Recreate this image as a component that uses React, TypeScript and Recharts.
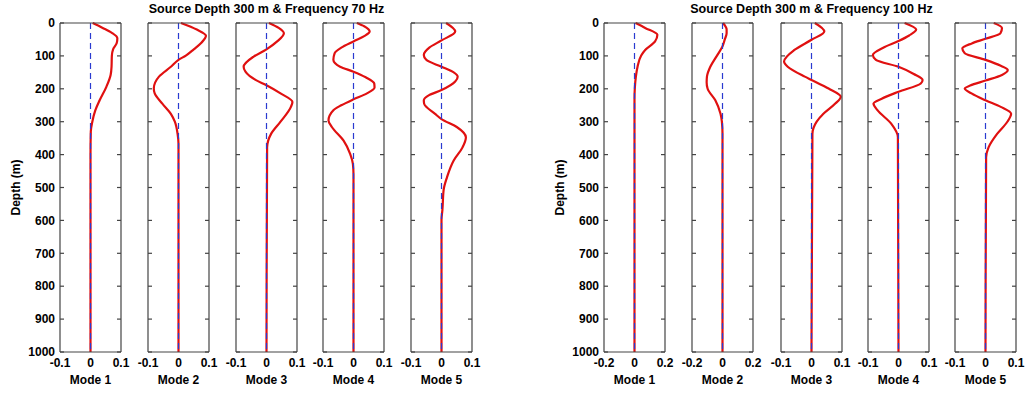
import React from 'react';
import { LineChart, Line, XAxis, YAxis } from 'recharts';

// ---------- data ----------
const depthTicks = [0, 100, 200, 300, 400, 500, 600, 700, 800, 900, 1000];
const ticks01 = [-0.1, 0, 0.1];
const ticks02 = [-0.2, 0, 0.2];
const titles = ['Source Depth 300 m & Frequency 70 Hz', 'Source Depth 300 m & Frequency 100 Hz'];
const modeNames = ['Mode 1', 'Mode 2', 'Mode 3', 'Mode 4', 'Mode 5'];

// 70 Hz
const d70m1 = [0, 15, 30, 46, 61, 80, 100, 133, 158, 194, 235, 265, 300, 330, 400, 1000];
const v70m1 = [0.007, 0.04, 0.07, 0.088, 0.086, 0.074, 0.07, 0.069, 0.066, 0.052, 0.03, 0.016, 0.006, 0.001, 0, 0];
const d70m2 = [0, 20, 39, 60, 80, 99, 112, 133, 163, 199, 214, 245, 276, 300, 337, 367, 1000];
const v70m2 = [0.008, 0.06, 0.09, 0.075, 0.05, 0.024, 0, -0.025, -0.064, -0.081, -0.078, -0.053, -0.025, -0.012, -0.003, 0, 0];
const d70m3 = [0, 15, 31, 56, 80, 102, 133, 148, 173, 189, 214, 240, 255, 300, 337, 378, 1000];
const v70m3 = [0.008, 0.04, 0.057, 0.035, 0, -0.042, -0.075, -0.069, -0.036, 0, 0.046, 0.085, 0.08, 0.046, 0.015, 0.002, 0];
const d70m4 = [0, 10, 26, 40, 56, 75, 92, 112, 133, 148, 165, 184, 196, 214, 232, 250, 265, 296, 316, 357, 398, 428, 460, 1000];
const v70m4 = [0.011, 0.035, 0.053, 0.035, 0, -0.04, -0.062, -0.066, -0.044, 0, 0.04, 0.068, 0.069, 0.044, 0, -0.04, -0.066, -0.082, -0.071, -0.033, -0.011, -0.002, 0, 0];
const d70m5 = [0, 26, 53, 75, 97, 112, 133, 150, 163, 178, 204, 220, 235, 245, 276, 292, 316, 347, 378, 418, 469, 507, 568, 598, 1000];
const v70m5 = [0.015, 0.045, 0, -0.04, -0.058, -0.05, 0, 0.04, 0.053, 0.045, 0, -0.042, -0.058, -0.057, -0.021, 0, 0.05, 0.08, 0.069, 0.04, 0.018, 0.007, 0.003, 0, 0];

// 100 Hz
const d100m1 = [0, 15, 36, 56, 82, 99, 133, 163, 199, 230, 1000];
const v100m1 = [0.007, 0.07, 0.15, 0.135, 0.07, 0.044, 0.02, 0.009, 0.002, 0, 0];
const d100m2 = [0, 20, 31, 50, 71, 99, 133, 163, 180, 199, 235, 276, 300, 337, 1000];
const v100m2 = [0.004, 0.027, 0.027, 0.015, 0, -0.036, -0.08, -0.102, -0.104, -0.098, -0.047, -0.013, -0.004, 0, 0];
const d100m3 = [0, 26, 51, 82, 117, 133, 163, 173, 199, 224, 245, 276, 300, 337, 1000];
const v100m3 = [0.011, 0.042, 0, -0.056, -0.09, -0.078, -0.022, 0, 0.056, 0.096, 0.078, 0.039, 0.017, 0.003, 0];
const d100m4 = [0, 20, 38, 55, 75, 97, 112, 133, 155, 173, 184, 209, 230, 245, 265, 306, 347, 1000];
const v100m4 = [0.02, 0.058, 0.035, 0, -0.05, -0.084, -0.074, 0, 0.05, 0.079, 0.073, 0, -0.055, -0.082, -0.069, -0.024, -0.002, 0];
const d100m5 = [0, 15, 31, 48, 62, 77, 92, 112, 130, 143, 158, 175, 190, 199, 214, 235, 255, 276, 301, 337, 378, 408, 1000];
const v100m5 = [0.027, 0.054, 0.049, 0, -0.045, -0.076, -0.068, 0, 0.05, 0.073, 0.054, 0, -0.05, -0.068, -0.046, 0, 0.05, 0.084, 0.071, 0.038, 0.01, 0.002, 0];

const depths70 = [d70m1, d70m2, d70m3, d70m4, d70m5];
const values70 = [v70m1, v70m2, v70m3, v70m4, v70m5];
const depths100 = [d100m1, d100m2, d100m3, d100m4, d100m5];
const values100 = [v100m1, v100m2, v100m3, v100m4, v100m5];

// ---------- style ----------
const FONT = "'Liberation Sans', Arial, sans-serif";
const FS = 12;
const BORDER = '#444';
const RED = '#e01010';
const BLUE = '#2a3ad0';
const PLOT_W = 61;
const PLOT_TOP = 23;
const PLOT_BOTTOM = 352;
const H = 394;

const left70 = [60, 148, 236, 323, 411];
const left100 = [604, 692, 781, 868, 955];

const noTick = () => <g />;

type PanelProps = {
  depths: number[];
  values: number[];
  domain: number[];
  xTicks: number[];
  plotLeft: number;
  first: boolean;
  mode: string;
};

function Panel({ depths, values, domain, xTicks, plotLeft, first, mode }: PanelProps) {
  const data = depths.map((d, i) => ({ d, v: values[i], z: 0 }));
  const side = 15;
  const labW = first ? 60 : 0;
  const ml = first ? 0 : side;
  const width = ml + labW + PLOT_W + side;
  const left = plotLeft - ml - labW;
  const tickStyle = { fontSize: FS, fill: '#000', fontWeight: 'bold', fontFamily: FONT };
  return (
    <div style={{ position: 'absolute', left, top: 0 }}>
      <LineChart
        width={width}
        height={H}
        data={data}
        layout="vertical"
        margin={{ top: PLOT_TOP, right: side, bottom: 0, left: ml }}
      >
        <XAxis
          xAxisId="b"
          type="number"
          dataKey="v"
          domain={domain}
          ticks={xTicks}
          allowDataOverflow
          orientation="bottom"
          height={H - PLOT_BOTTOM}
          axisLine={{ stroke: BORDER, strokeWidth: 1.2 }}
          tickLine={false}
          tickSize={4}
          tickMargin={2}
          interval={0}
          tick={tickStyle}
          label={{ value: mode, position: 'insideBottom', offset: 10, style: { ...tickStyle } }}
        />
        <XAxis
          xAxisId="t"
          type="number"
          domain={domain}
          allowDataOverflow
          orientation="top"
          mirror
          axisLine={{ stroke: BORDER, strokeWidth: 1.2 }}
          tickLine={false}
          tick={noTick}
        />
        {first && (
          <YAxis
            yAxisId="lab"
            type="number"
            dataKey="d"
            domain={[0, 1000]}
            ticks={depthTicks}
            interval={0}
            orientation="left"
            width={labW}
            axisLine={false}
            tickLine={false}
            tickSize={3}
            tickMargin={2}
            tick={tickStyle}
            label={{ value: 'Depth (m)', angle: -90, position: 'insideLeft', offset: 16, style: { ...tickStyle, textAnchor: 'middle' } }}
          />
        )}
        <YAxis
          yAxisId="l"
          type="number"
          dataKey="d"
          domain={[0, 1000]}
          ticks={depthTicks}
          interval={0}
          orientation="left"
          mirror
          axisLine={{ stroke: BORDER, strokeWidth: 1.2 }}
          tickLine={{ stroke: BORDER, strokeWidth: 1.2 }}
          tickSize={4}
          tick={noTick}
        />
        <YAxis
          yAxisId="r"
          type="number"
          dataKey="d"
          domain={[0, 1000]}
          ticks={depthTicks}
          interval={0}
          orientation="right"
          mirror
          axisLine={{ stroke: BORDER, strokeWidth: 1.2 }}
          tickLine={{ stroke: BORDER, strokeWidth: 1.2 }}
          tickSize={4}
          tick={noTick}
        />
        <Line
          xAxisId="b"
          yAxisId="l"
          dataKey="v"
          type="monotone"
          stroke={RED}
          strokeWidth={2.2}
          dot={false}
          isAnimationActive={false}
        />
        <Line
          xAxisId="b"
          yAxisId="l"
          dataKey="z"
          type="linear"
          stroke={BLUE}
          strokeWidth={1.2}
          strokeDasharray="6 4"
          dot={false}
          isAnimationActive={false}
        />
      </LineChart>
    </div>
  );
}

const titleStyle: React.CSSProperties = {
  position: 'absolute',
  top: 2,
  width: 400,
  textAlign: 'center',
  fontFamily: FONT,
  fontWeight: 'bold',
  fontSize: 12.5,
  lineHeight: '14px',
  color: '#000',
  whiteSpace: 'nowrap',
};

export default function App() {
  return (
    <div style={{ position: 'absolute', left: 0, top: 0, width: 1026, height: H, background: '#fff' }}>
      <div style={{ ...titleStyle, left: left70[2] + PLOT_W / 2 - 200 }}>{titles[0]}</div>
      <div style={{ ...titleStyle, left: left100[2] + PLOT_W / 2 - 200 }}>{titles[1]}</div>
      {modeNames.map((m, i) => (
        <Panel
          key={'a' + i}
          depths={depths70[i]}
          values={values70[i]}
          domain={[-0.1, 0.1]}
          xTicks={ticks01}
          plotLeft={left70[i]}
          first={i === 0}
          mode={m}
        />
      ))}
      {modeNames.map((m, i) => (
        <Panel
          key={'b' + i}
          depths={depths100[i]}
          values={values100[i]}
          domain={i < 2 ? [-0.2, 0.2] : [-0.1, 0.1]}
          xTicks={i < 2 ? ticks02 : ticks01}
          plotLeft={left100[i]}
          first={i === 0}
          mode={m}
        />
      ))}
    </div>
  );
}
